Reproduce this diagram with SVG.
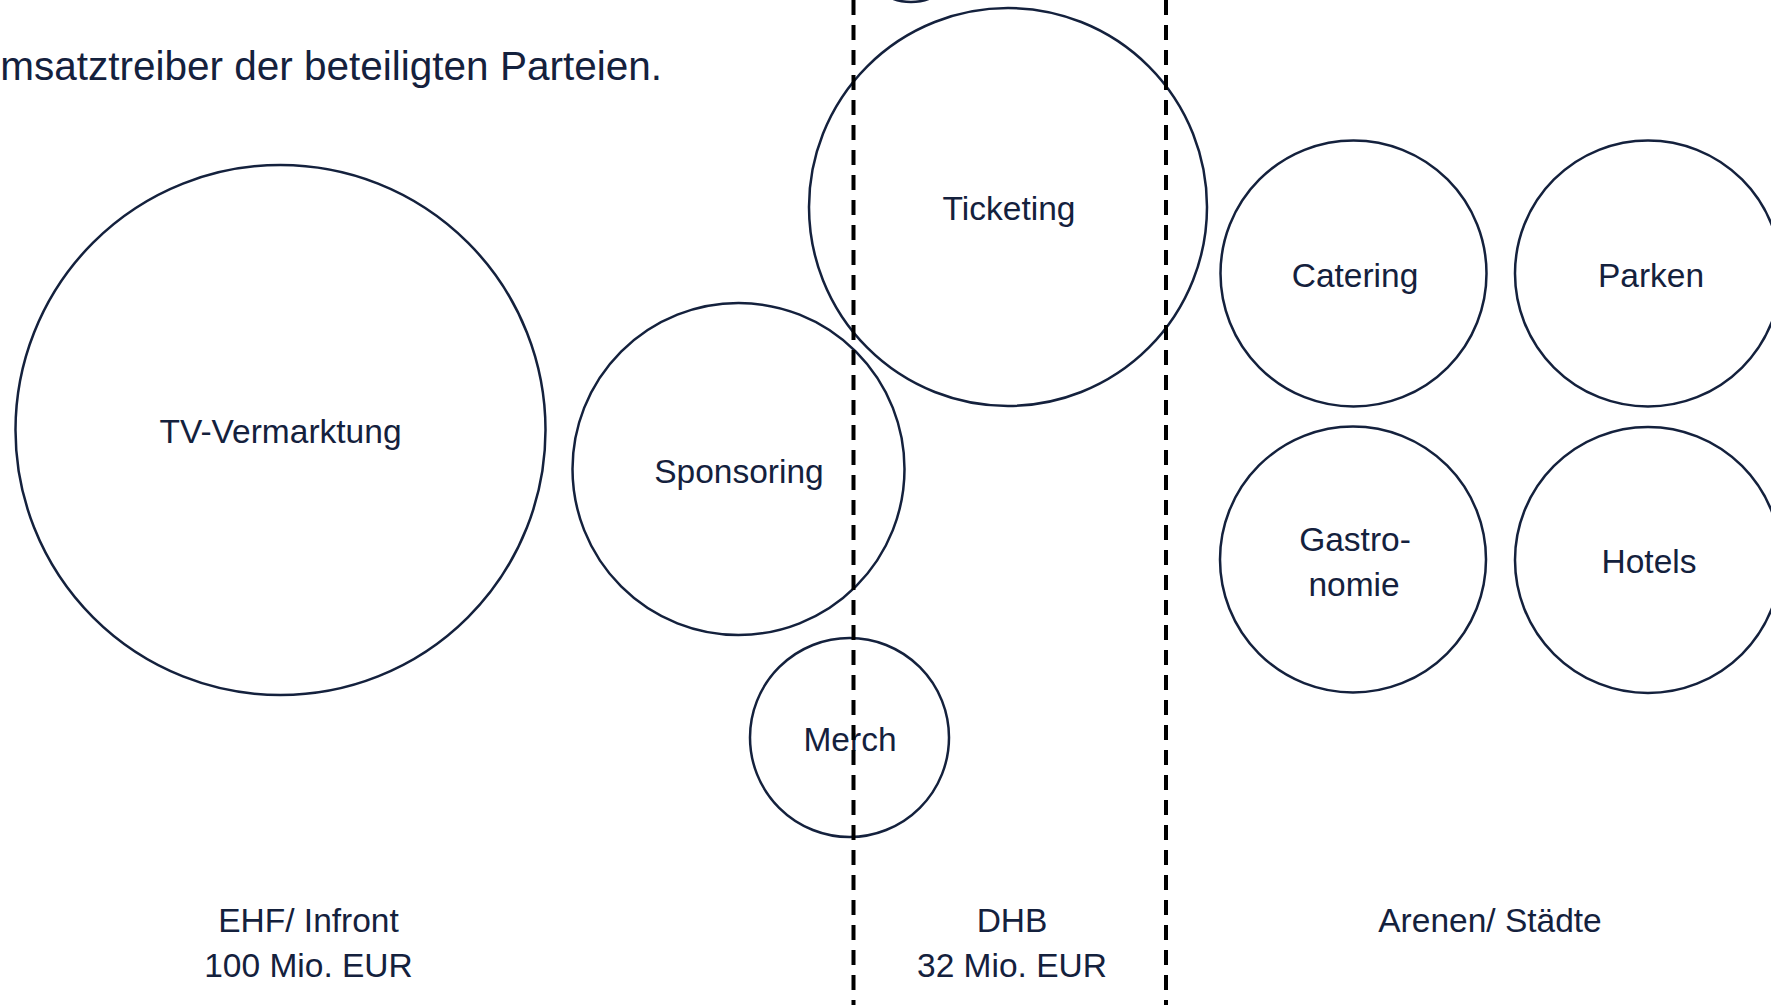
<svg xmlns="http://www.w3.org/2000/svg" width="1771" height="1005" viewBox="0 0 1771 1005">
<style>
  .c { fill: none; stroke: #14213d; stroke-width: 2.5; }
  .t { font-family: "Liberation Sans", Arial, sans-serif; font-size: 33.5px; fill: #14213d; text-anchor: middle; }
  .title { font-family: "Liberation Sans", Arial, sans-serif; font-size: 40.5px; fill: #14213d; text-anchor: end; }
  .dash { stroke: #000000; stroke-width: 4; stroke-dasharray: 15 10; fill: none; }
</style>
<rect x="0" y="0" width="1771" height="1005" fill="#ffffff"/>
<text class="title" x="662" y="80">msatztreiber der beteiligten Parteien.</text>
<g id="top-partial">
  <circle class="c" cx="911" cy="-48" r="50" stroke-width="3"/>
</g>
<g id="tv">
  <circle class="c" cx="280.5" cy="430" r="265"/>
  <text class="t" x="280.5" y="443">TV-Vermarktung</text>
</g>
<g id="sponsoring">
  <circle class="c" cx="738.5" cy="469" r="166"/>
  <text class="t" x="739" y="483">Sponsoring</text>
</g>
<g id="merch">
  <circle class="c" cx="849.5" cy="737.5" r="99.5"/>
  <text class="t" x="850" y="751">Merch</text>
</g>
<g id="ticketing">
  <circle class="c" cx="1008" cy="207" r="199"/>
  <text class="t" x="1009" y="220">Ticketing</text>
</g>
<g id="catering">
  <circle class="c" cx="1353.5" cy="273.5" r="133"/>
  <text class="t" x="1355" y="287">Catering</text>
</g>
<g id="parken">
  <circle class="c" cx="1648" cy="273.5" r="133"/>
  <text class="t" x="1651" y="287">Parken</text>
</g>
<g id="gastronomie">
  <circle class="c" cx="1353" cy="559.5" r="133"/>
  <text class="t" x="1355" y="551">Gastro-</text>
  <text class="t" x="1354" y="596">nomie</text>
</g>
<g id="hotels">
  <circle class="c" cx="1648" cy="560" r="133"/>
  <text class="t" x="1649" y="573">Hotels</text>
</g>
<g id="connectors">
  <line class="dash" x1="853.5" y1="0" x2="853.5" y2="1005"/>
  <line class="dash" x1="1166" y1="0" x2="1166" y2="1005"/>
</g>
<g id="labels">
  <text class="t" x="308.5" y="932">EHF/ Infront</text>
  <text class="t" x="308.5" y="977">100 Mio. EUR</text>
  <text class="t" x="1012" y="932">DHB</text>
  <text class="t" x="1012" y="977">32 Mio. EUR</text>
  <text class="t" x="1490" y="932">Arenen/ Städte</text>
</g>
</svg>
